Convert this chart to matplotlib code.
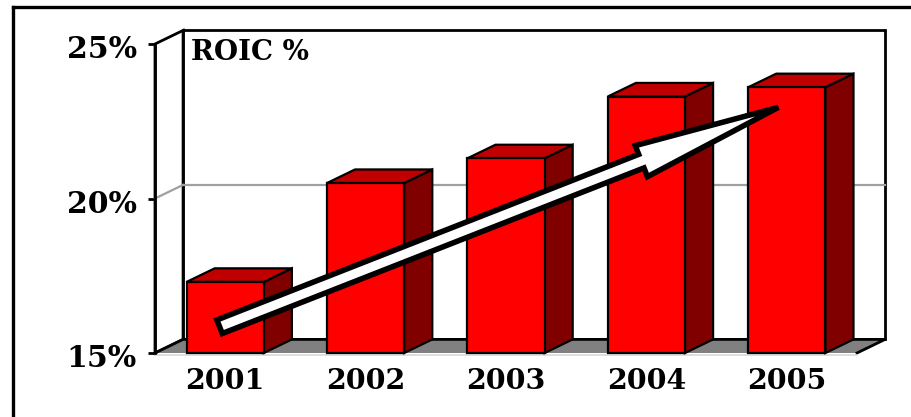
import matplotlib
matplotlib.use("Agg")
import matplotlib.pyplot as plt
from matplotlib.patches import Polygon, FancyArrowPatch, ArrowStyle
from matplotlib.lines import Line2D
from matplotlib.transforms import offset_copy

# ---- data ----
years = ["2001", "2002", "2003", "2004", "2005"]
roic = [17.3, 20.5, 21.3, 23.3, 23.6]
y_ticks = [15, 20, 25]
y_tick_labels = ["15%", "20%", "25%"]
chart_title = "ROIC %"
# trend arrow (category index, percent)
arrow_start = (-0.04, 15.85)
arrow_end = (3.94, 22.95)

# ---- style ----
W, H, DPI = 911, 417, 100
FONT = "DejaVu Serif"
BAR_W = 0.55
DX, DY = 0.2, 0.44          # 3-D depth offset in data units
YMIN, YMAX = 15, 25
RED, TOP, SIDE = "#FF0000", "#C00000", "#800000"

fig = plt.figure(figsize=(W / DPI, H / DPI), dpi=DPI)
fig.patch.set_facecolor("white")

ax = fig.add_axes([155 / W, (H - 353) / H, 702 / W, 309 / H])
ax.set_xlim(-0.5, len(years) - 0.5)
ax.set_ylim(YMIN, YMAX)
ax.patch.set_alpha(0)
for s in ("top", "right", "bottom"):
    ax.spines[s].set_visible(False)
ax.spines["left"].set_linewidth(2)
ax.spines["left"].set_zorder(6)

x0, x1 = -0.5, len(years) - 0.5
kw = dict(clip_on=False)

# back wall
ax.add_patch(Polygon([(x0 + DX, YMIN + DY), (x1 + DX, YMIN + DY),
                      (x1 + DX, YMAX + DY), (x0 + DX, YMAX + DY)],
                     closed=True, fc="white", ec="black", lw=2, zorder=1, **kw))
# side wall
ax.add_patch(Polygon([(x0, YMIN), (x0, YMAX), (x0 + DX, YMAX + DY), (x0 + DX, YMIN + DY)],
                     closed=True, fc="white", ec="black", lw=2, zorder=1, **kw))
# gridlines (20%)
for t in y_ticks[1:-1]:
    ax.plot([x0 + DX, x1 + DX], [t + DY, t + DY], color="#a0a0a0", lw=1.6, zorder=2, **kw)
    ax.plot([x0, x0 + DX], [t, t + DY], color="#a0a0a0", lw=1.6, zorder=2, **kw)
# floor
ax.add_patch(Polygon([(x0, YMIN), (x1, YMIN), (x1 + DX, YMIN + DY), (x0 + DX, YMIN + DY)],
                     closed=True, fc="#808080", ec="none", zorder=2, **kw))
ax.plot([x0, x0 + DX, x1 + DX, x1], [YMIN, YMIN + DY, YMIN + DY, YMIN],
        color="black", lw=2, zorder=2, **kw)
ax.plot([x0, x1], [YMIN - 0.05, YMIN - 0.05], color="#d8d8d8", lw=1.2, zorder=2, **kw)

# bars
for i, v in enumerate(roic):
    a, b = i - BAR_W / 2, i + BAR_W / 2
    ax.add_patch(Polygon([(b, YMIN), (b + DX, YMIN + DY), (b + DX, v + DY), (b, v)],
                         closed=True, fc=SIDE, ec="black", lw=1.6, joinstyle="miter", zorder=3, **kw))
    ax.add_patch(Polygon([(a, v), (b, v), (b + DX, v + DY), (a + DX, v + DY)],
                         closed=True, fc=TOP, ec="black", lw=1.6, joinstyle="miter", zorder=3, **kw))
    ax.add_patch(Polygon([(a, YMIN), (b, YMIN), (b, v), (a, v)],
                         closed=True, fc=RED, ec="black", lw=1.6, joinstyle="miter", zorder=3, **kw))

# trend arrow
arrow = FancyArrowPatch(arrow_start, arrow_end,
                        arrowstyle=ArrowStyle.Simple(head_length=106, head_width=24, tail_width=10.5),
                        mutation_scale=1, fc="white", ec="black", lw=4,
                        joinstyle="miter", shrinkA=0, shrinkB=0, zorder=5, clip_on=False)
ax.add_patch(arrow)

# ticks & labels
ax.set_xticks(range(len(years)))
ax.set_xticklabels(years, fontfamily=FONT, fontweight="bold", fontsize=20.5)
ax.tick_params(axis="x", length=0, pad=11)
ax.set_yticks(y_ticks)
ax.set_yticklabels(y_tick_labels, fontfamily=FONT, fontweight="bold", fontsize=21.5)
ax.tick_params(axis="y", length=5, width=2, pad=8, color="black")
for lab in ax.get_yticklabels():
    lab.set_transform(offset_copy(lab.get_transform(), fig=fig, x=0, y=-3, units="dots"))

# title inside back wall
title_tr = offset_copy(ax.transData, fig=fig, x=8, y=-9, units="dots")
ax.text(x0 + DX, YMAX + DY, chart_title, transform=title_tr,
        fontfamily=FONT, fontweight="bold", fontsize=20, ha="left", va="top",
        zorder=6)

# outer frame (top and left)
fig.add_artist(Line2D([13 / W, 13 / W], [0, 1 - 7 / H], color="black", lw=2.4,
                      transform=fig.transFigure))
fig.add_artist(Line2D([13 / W, 1], [1 - 7 / H, 1 - 7 / H], color="black", lw=2.4,
                      transform=fig.transFigure))

fig.savefig("out.png", dpi=DPI, facecolor="white")
